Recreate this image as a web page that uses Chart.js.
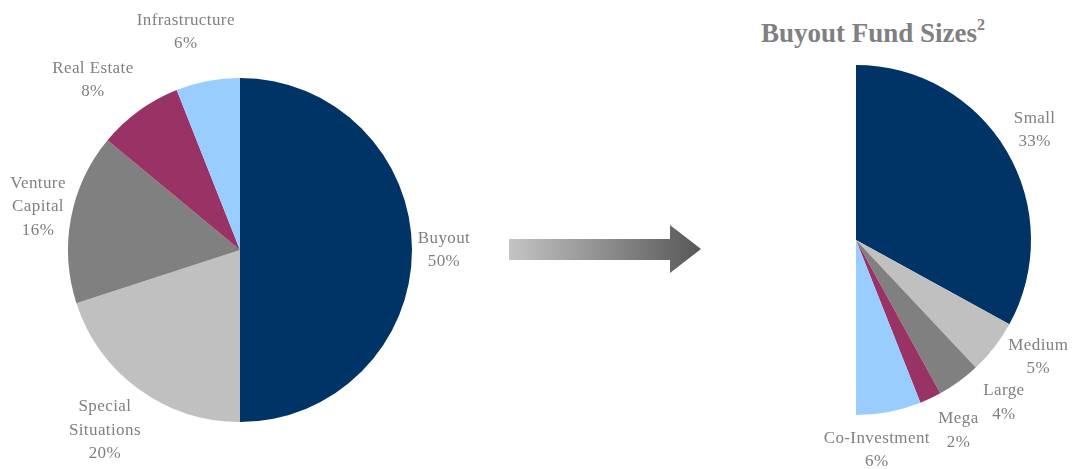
<!DOCTYPE html>
<html>
<head>
<meta charset="utf-8">
<script src="https://cdn.jsdelivr.net/npm/chart.js@4.4.1/dist/chart.umd.min.js"></script>
<style>
  html, body { margin: 0; padding: 0; background: #fff; }
  #wrap { position: relative; width: 1074px; height: 469px; overflow: hidden; }
  canvas.layer { position: absolute; left: 0; top: 0; }
  #title { position: absolute; left: 703px; width: 340px; top: 18px; text-align: center;
           font-family: 'Liberation Serif', 'Times New Roman', serif; font-weight: bold;
           font-size: 27px; line-height: 30px; color: #808080; white-space: nowrap; }
  #title sup { font-size: 16px; line-height: 0; position: relative; top: -2px; }
  #arrow { position: absolute; left: 0; top: 0; }
</style>
</head>
<body>
<div id="wrap">
  <svg id="arrow" width="1074" height="469">
    <defs>
      <linearGradient id="ag" x1="509" y1="0" x2="701" y2="0" gradientUnits="userSpaceOnUse">
        <stop offset="0" stop-color="#c4c4c4"/>
        <stop offset="1" stop-color="#575757"/>
      </linearGradient>
    </defs>
    <polygon points="509,239 670,239 670,225 701,249 670,273 670,260 509,260" fill="url(#ag)"/>
  </svg>
  <div id="title">Buyout Fund Sizes<sup>2</sup></div>
  <canvas id="left" class="layer" width="1074" height="469"></canvas>
  <canvas id="right" class="layer" width="1074" height="469"></canvas>
</div>
<script>
// ---- Data ----
const allocCategories = ['Buyout', 'Special\nSituations', 'Venture\nCapital', 'Real Estate', 'Infrastructure'];
const allocValues = [50, 20, 16, 8, 6];
const allocColors = ['#003366', '#c0c0c0', '#808080', '#993366', '#99ccff'];

const sizeCategories = ['Small', 'Medium', 'Large', 'Mega', 'Co-Investment'];
const sizeValues = [33, 5, 4, 2, 6];
const sizeColors = ['#003366', '#c0c0c0', '#808080', '#993366', '#99ccff'];

// label nudges relative to the slice's outer-edge midpoint
const allocLabelNudge = [[32, 0], [-34, 41], [-33, -11], [-46, -31], [-22, -49]];
const sizeLabelNudge = [[28, -21], [44, 10], [45, 21], [28, 32], [-12, 38]];

const FONT = "17px 'Liberation Serif', 'Times New Roman', serif";
const LINE_H = 23.5;

const sliceLabels = {
  id: 'sliceLabels',
  afterDraw(chart, args, opts) {
    const ctx = chart.ctx;
    const meta = chart.getDatasetMeta(0);
    const labels = chart.data.labels;
    const vals = chart.data.datasets[0].data;
    ctx.save();
    ctx.font = FONT;
    ctx.fillStyle = '#808080';
    ctx.textAlign = 'center';
    ctx.textBaseline = 'middle';
    try { ctx.letterSpacing = '0.4px'; } catch (e) {}
    meta.data.forEach((arc, i) => {
      const p = arc.getProps(['x', 'y', 'startAngle', 'endAngle', 'outerRadius'], true);
      const mid = (p.startAngle + p.endAngle) / 2;
      const ex = p.x + Math.cos(mid) * p.outerRadius;
      const ey = p.y + Math.sin(mid) * p.outerRadius;
      const n = opts.nudge[i];
      const cx = ex + n[0], cy = ey + n[1];
      const lines = labels[i].split('\n').concat([vals[i] + '%']);
      const top = cy - (lines.length - 1) * LINE_H / 2;
      lines.forEach((ln, k) => ctx.fillText(ln, cx, top + k * LINE_H));
    });
    ctx.restore();
  }
};

function makePie(id, labels, values, colors, circumference, padding, nudge) {
  return new Chart(document.getElementById(id), {
    type: 'pie',
    data: {
      labels: labels,
      datasets: [{ data: values, backgroundColor: colors, borderWidth: 0, hoverOffset: 0 }]
    },
    options: {
      responsive: false,
      animation: false,
      rotation: 0,
      circumference: circumference,
      layout: { padding: padding },
      plugins: {
        legend: { display: false },
        tooltip: { enabled: false },
        sliceLabels: { nudge: nudge }
      },
      events: []
    },
    plugins: [sliceLabels]
  });
}

makePie('left', allocCategories, allocValues, allocColors, 360,
        { left: 68, top: 78, right: 1074 - 412, bottom: 469 - 422 }, allocLabelNudge);
makePie('right', sizeCategories, sizeValues, sizeColors, 180,
        { left: 856, top: 65, right: 1074 - 1031, bottom: 469 - 415 }, sizeLabelNudge);
</script>
</body>
</html>
